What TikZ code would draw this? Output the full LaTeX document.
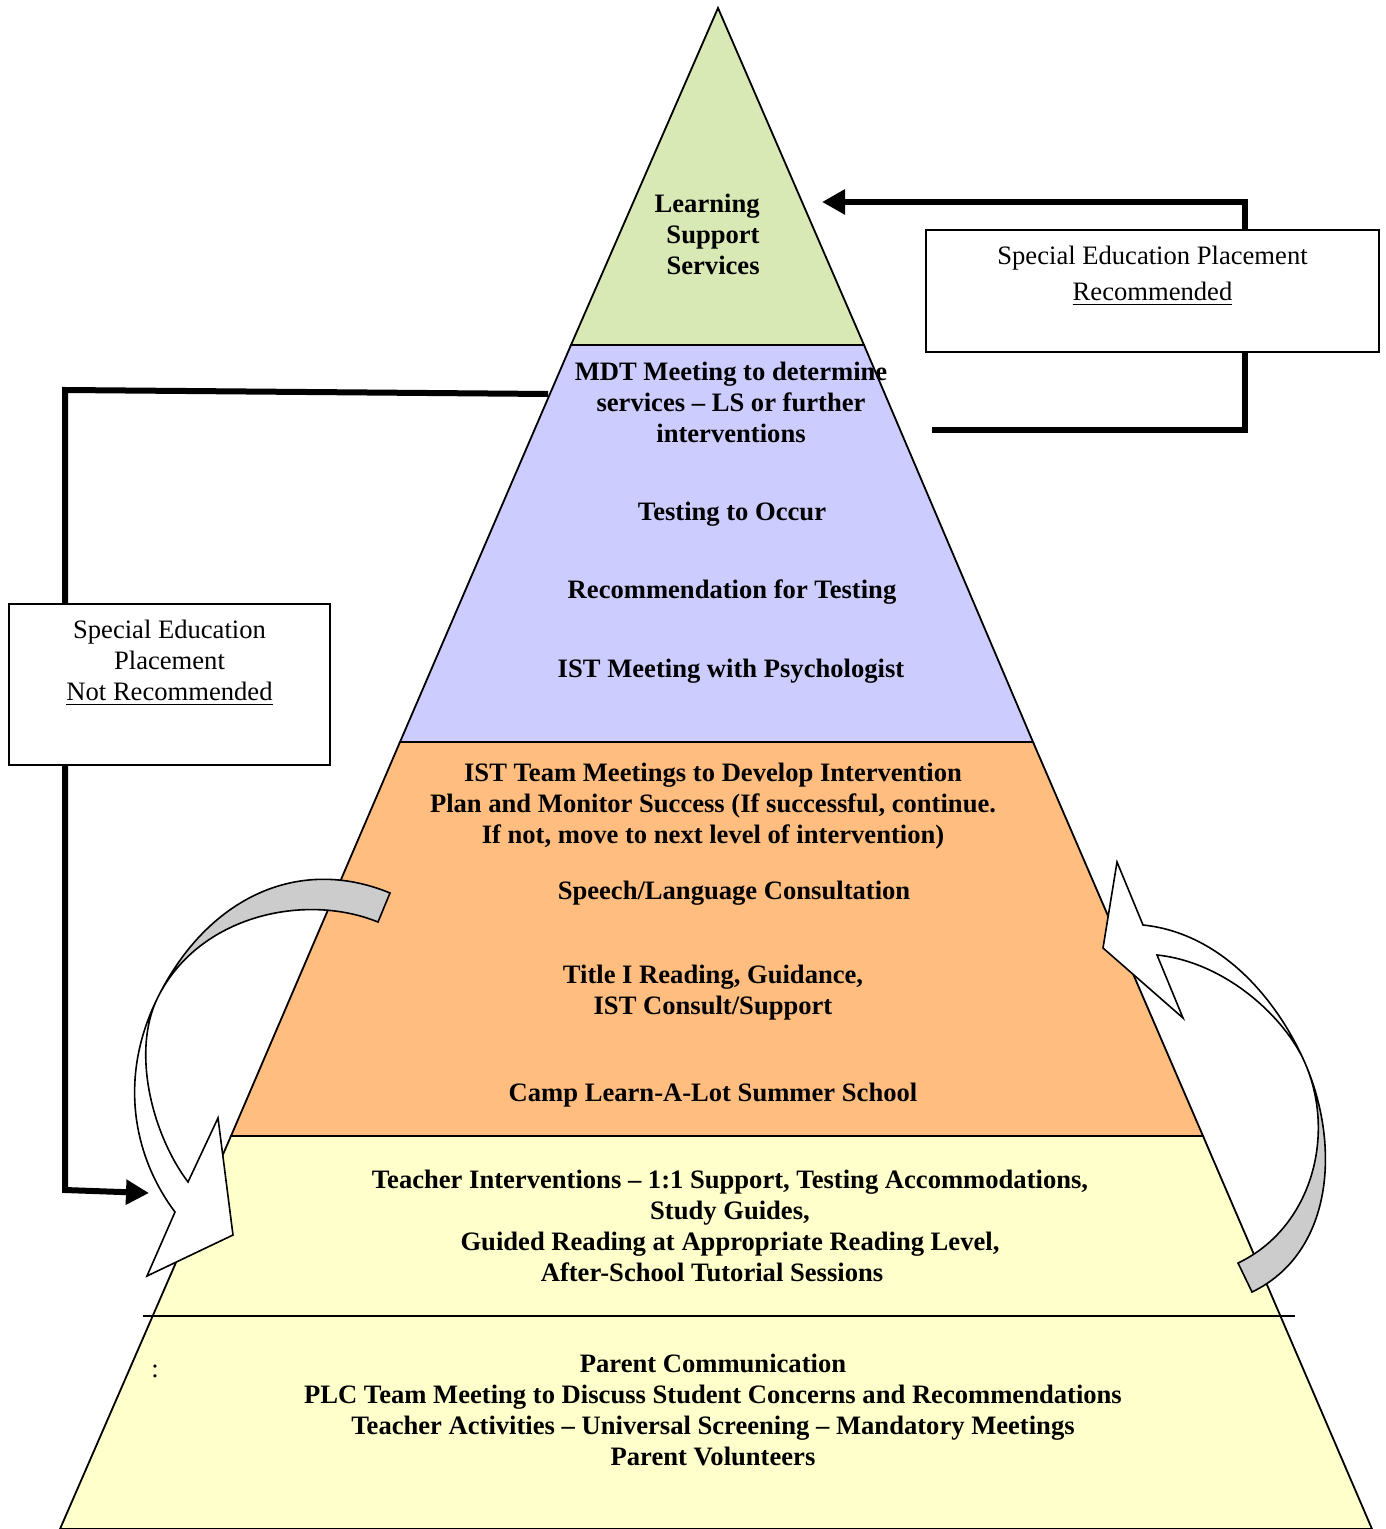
\documentclass[tikz,border=0pt]{standalone}
\usepackage{fontspec}
\setmainfont{Liberation Serif}
\usetikzlibrary{arrows.meta,positioning}

\definecolor{lsgreen}{RGB}{216,233,181}
\definecolor{mdtpurple}{RGB}{204,204,255}
\definecolor{istorange}{RGB}{255,190,128}
\definecolor{baseyellow}{RGB}{255,255,204}
\definecolor{twistgray}{RGB}{204,204,204}

\tikzset{
  tier/.style={draw=black, line width=0.9pt, line join=miter},
  tiertext/.style={font={\bfseries\fontsize{13.3}{15.5}\selectfont}, align=center, inner sep=0pt},
  placebox/.style={draw, line width=0.9pt, fill=white, inner sep=0pt},
  placetext/.style={font={\fontsize{13.3}{15.5}\selectfont}, align=center, inner sep=0pt},
  routeline/.style={line width=3pt, line join=miter, -{Triangle[length=11.5pt,width=12pt]}},
  bendarrow/.style={draw=black, line width=0.8pt, line join=miter}
}

\begin{document}
\begin{tikzpicture}[x=0.5pt, y=-0.5pt]
\useasboundingbox (0,0) rectangle (1385,1529);

% Tiers

\filldraw[tier, fill=baseyellow] (231,1136) -- (1203,1136) -- (1372,1529) -- (60,1529) -- cycle;
\filldraw[tier, fill=istorange] (400,742) -- (1033,742) -- (1203,1136) -- (231,1136) -- cycle;
\filldraw[tier, fill=mdtpurple] (571,345) -- (864,345) -- (1033,742) -- (400,742) -- cycle;
\filldraw[tier, fill=lsgreen] (718,8) -- (864,345) -- (571,345) -- cycle;
\draw[line width=0.8pt] (143,1316) -- (1295,1316);

% Tier labels

\node[tiertext, align=right, anchor=east] (lss) at (760,234) {Learning\\Support\\Services};
\node[tiertext] (mdt) at (731,402) {MDT Meeting to determine\\services – LS or further\\interventions};
\node[tiertext] (testing) at (732,514) {Testing to Occur};
\node[tiertext] (recommend) at (732,592) {Recommendation for Testing};
\node[tiertext] (istpsych) at (731,671) {IST Meeting with Psychologist};
\node[tiertext] (istteam) at (713,806) {IST Team Meetings to Develop Intervention\\Plan and Monitor Success (If successful, continue.\\If not, move to next level of intervention)};
\node[tiertext] (speech) at (734,893) {Speech/Language Consultation};
\node[tiertext] (titleone) at (713,993) {Title I Reading, Guidance,\\IST Consult/Support};
\node[tiertext] (camp) at (713,1095) {Camp Learn-A-Lot Summer School};
\node[tiertext] (teacher) at (730,1226) {Teacher Interventions – 1:1 Support, Testing Accommodations,\\Study Guides,\\Guided Reading at Appropriate Reading Level,\\After-School Tutorial Sessions\hspace*{18pt}};
\node[tiertext] (parent) at (713,1410) {Parent Communication\\PLC Team Meeting to Discuss Student Concerns and Recommendations\\Teacher Activities – Universal Screening – Mandatory Meetings\\Parent Volunteers};
\node[placetext] (colon) at (155,1371) {:};

% Connectors

\coordinate (mdtleft) at (548,394);
\coordinate (notup) at (65,390);
\coordinate (notdown) at (65,1190);
\coordinate (teacherleft) at (149,1193);
\coordinate (recstart) at (932,430);
\coordinate (reclow) at (1245,430);
\coordinate (rechigh) at (1245,202);
\coordinate (lssright) at (822,202);

\draw[routeline] (mdtleft) -- (notup) -- (notdown) -- (teacherleft);
\draw[routeline] (recstart) -- (reclow) -- (rechigh) -- (lssright);

% Placement boxes

\node[placebox, minimum width=160.5pt, minimum height=80.5pt] (notbox) at (169.5,684.5) {};
\node[placetext, below=8.5pt of notbox.north] (nottext) {Special Education\\Placement\\\underline{Not Recommended}};
\node[placebox, minimum width=226.5pt, minimum height=61pt] (recbox) at (1152.5,291) {};
\node[placetext, below=8.5pt of recbox.north] (rectext) {Special Education Placement\\[2.5pt]\underline{Recommended}};

% Curved arrows

\filldraw[bendarrow, fill=white] (158,997) .. controls (118,1077) and (133,1156) .. (175,1212)
  -- (147,1276) -- (233,1235) -- (218,1118) -- (188,1182)
  .. controls (152,1134) and (131,1051) .. (158,997) -- cycle;
\filldraw[bendarrow, fill=twistgray] (390,893) .. controls (298,855) and (207.5,898) .. (158,997)
  .. controls (198.5,916) and (304,892) .. (378,922) -- cycle;

\filldraw[bendarrow, fill=white] (1305,1063) .. controls (1277,999) and (1221,933) .. (1143,925)
  -- (1117,862) -- (1103,948) -- (1183,1018) -- (1157,955)
  .. controls (1225,962) and (1285,1017) .. (1305,1063) -- cycle;
\filldraw[bendarrow, fill=twistgray] (1305,1063) .. controls (1341,1146) and (1333,1253) .. (1252,1292)
  -- (1238,1263) .. controls (1310,1229) and (1337,1137) .. (1305,1063) -- cycle;

\end{tikzpicture}
\end{document}
